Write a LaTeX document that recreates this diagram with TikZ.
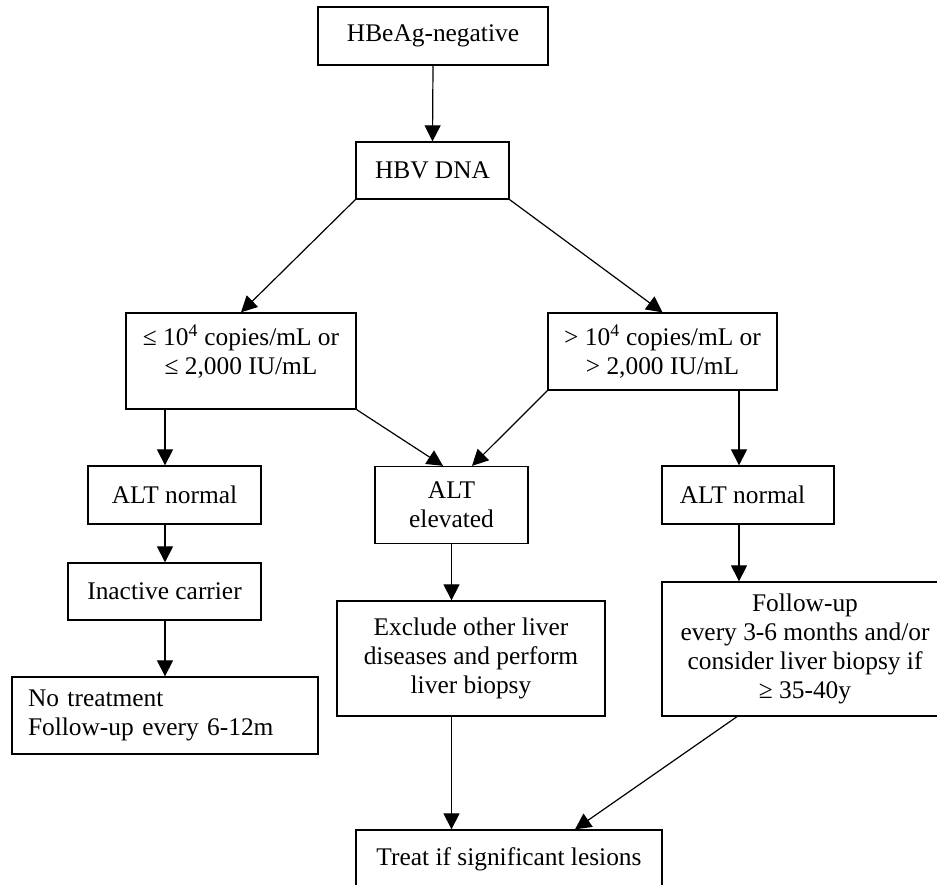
\documentclass[tikz,border=0pt]{standalone}
\usepackage{fontspec}
\setmainfont{Liberation Serif}
\usetikzlibrary{arrows.meta}
\begin{document}
\begin{tikzpicture}[x=1pt,y=-1pt,
  font=\fontsize{25.4}{29}\selectfont,
  box/.style={draw,line width=1.3pt,inner sep=0pt,align=center},
  arr/.style={line width=1.2pt,-{Triangle[length=16pt,width=16pt]}}]
\useasboundingbox (0,0) rectangle (937,885);
\clip (0,0) rectangle (937,885);
\node[box,minimum width=230pt,minimum height=58pt] (top) at (433,36) {HBeAg-negative};
\node[box,minimum width=153pt,minimum height=57pt] (hbv) at (432.5,170.5) {HBV DNA};
\node[box,minimum width=230pt,minimum height=96pt,text depth=23pt] (le) at (241,361) {≤ 10\textsuperscript{4} copies/mL or\\≤ 2,000 IU/mL};
\node[box,minimum width=229pt,minimum height=77pt] (gt) at (662.5,351.5) {> 10\textsuperscript{4} copies/mL or\\> 2,000 IU/mL};
\node[box,minimum width=173pt,minimum height=58pt] (altn1) at (174.5,495) {ALT normal};
\node[box,minimum width=153pt,minimum height=77pt] (alte) at (451.5,505) {ALT\\elevated};
\node[box,minimum width=172pt,minimum height=58pt] (altn2) at (748,495) {ALT normal\hspace{11pt}};
\node[box,minimum width=193pt,minimum height=57pt] (inact) at (164.5,591.5) {Inactive carrier};
\node[box,minimum height=77pt,text width=274pt,inner xsep=16pt,align=left] (notreat) at (165,715.5) {No treatment\\Follow-up every 6-12m};
\node[box,minimum width=268pt,minimum height=115pt] (excl) at (471,658.5) {Exclude other liver\\diseases and perform\\liver biopsy};
\node[box,minimum width=286pt,minimum height=134pt] (follow) at (805,649) {Follow-up\\every 3-6 months and/or\\consider liver biopsy if\\≥ 35-40y};
\node[box,minimum width=306pt,minimum height=59pt] (treat) at (509,859.5) {Treat if significant lesions};
\coordinate (lx) at (165,0);
\coordinate (rx) at (739,0);
\draw[arr] (top.south) -- (hbv.north);
\draw[arr] (hbv.south west) -- (le.north);
\draw[arr] (hbv.south east) -- (gt.north);
\draw[arr] (le.south -| lx) -- (altn1.north -| lx);
\draw[arr] (altn1.south -| lx) -- (inact.north -| lx);
\draw[arr] (inact.south -| lx) -- (notreat.north -| lx);
\draw[arr] (le.south east) -- ([xshift=-8.5pt]alte.north);
\draw[arr] (gt.south west) -- ([xshift=20.5pt]alte.north);
\draw[arr] (gt.south -| rx) -- (altn2.north -| rx);
\draw[arr] (altn2.south -| rx) -- (follow.north -| rx);
\draw[arr] (alte.south) -- (excl.north -| alte.south);
\draw[arr] (excl.south -| alte.south) -- (treat.north -| alte.south);
\draw[arr] ([xshift=-68pt]follow.south) -- ([xshift=66pt]treat.north);
\end{tikzpicture}
\end{document}
